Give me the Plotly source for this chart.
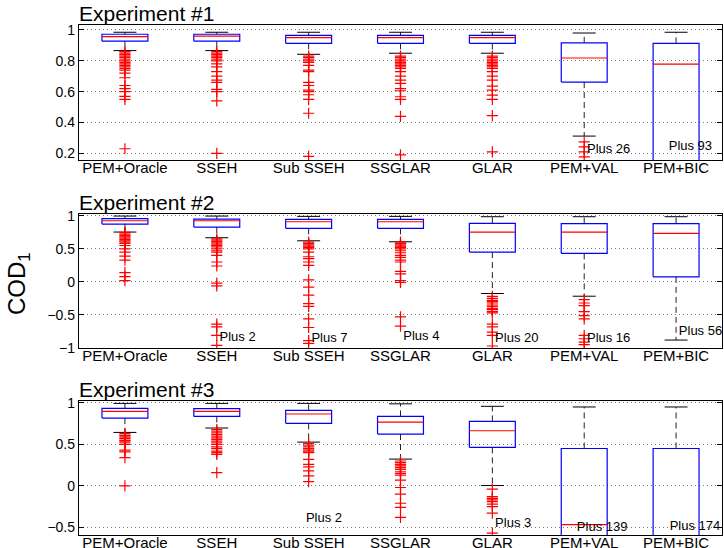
import plotly.graph_objects as go

categories = ["PEM+Oracle", "SSEH", "Sub SSEH", "SSGLAR", "GLAR", "PEM+VAL", "PEM+BIC"]
titles = ["Experiment #1", "Experiment #2", "Experiment #3"]

# ---- Experiment #1 ----
exp1_upper = [0.985, 0.985, 0.985, 0.985, 0.985, 0.980, 0.985]
exp1_q3 = [0.972, 0.972, 0.965, 0.965, 0.965, 0.916, 0.913]
exp1_med = [0.957, 0.960, 0.950, 0.950, 0.950, 0.818, 0.779]
exp1_q1 = [0.927, 0.927, 0.913, 0.913, 0.913, 0.662, 0.0]
exp1_lower = [0.866, 0.866, 0.842, 0.849, 0.849, 0.312, -0.5]
exp1_out = [
    [0.86, 0.85, 0.84, 0.83, 0.82, 0.81, 0.80, 0.79, 0.78, 0.77, 0.76, 0.75, 0.74, 0.72, 0.69, 0.64, 0.62, 0.60, 0.57, 0.55, 0.23],
    [0.86, 0.85, 0.84, 0.83, 0.82, 0.81, 0.80, 0.78, 0.76, 0.73, 0.70, 0.675, 0.66, 0.615, 0.60, 0.54, 0.20],
    [0.83, 0.82, 0.81, 0.80, 0.79, 0.77, 0.74, 0.73, 0.66, 0.64, 0.61, 0.60, 0.58, 0.55, 0.46, 0.18],
    [0.83, 0.82, 0.81, 0.80, 0.79, 0.78, 0.77, 0.76, 0.75, 0.73, 0.70, 0.675, 0.654, 0.62, 0.606, 0.567, 0.55, 0.44, 0.19],
    [0.83, 0.82, 0.81, 0.80, 0.79, 0.78, 0.77, 0.76, 0.75, 0.73, 0.70, 0.675, 0.636, 0.61, 0.578, 0.55, 0.445, 0.21],
    [0.275, 0.242, 0.21, 0.177],
    [],
]
exp1_plus_x = [6.03, 6.92]
exp1_plus_y = [0.225, 0.242]
exp1_plus_text = ["Plus 26", "Plus 93"]

# ---- Experiment #2 ----
exp2_upper = [0.995, 0.995, 0.99, 0.99, 0.985, 0.985, 0.985]
exp2_q3 = [0.955, 0.950, 0.945, 0.945, 0.885, 0.879, 0.879]
exp2_med = [0.924, 0.924, 0.909, 0.909, 0.753, 0.753, 0.733]
exp2_q1 = [0.874, 0.829, 0.809, 0.809, 0.450, 0.430, 0.076]
exp2_lower = [0.753, 0.667, 0.621, 0.606, -0.176, -0.217, -0.88]
exp2_out = [
    [0.75, 0.74, 0.72, 0.70, 0.68, 0.66, 0.64, 0.62, 0.60, 0.58, 0.55, 0.50, 0.45, 0.39, 0.33, 0.14, 0.08, 0.02],
    [0.65, 0.63, 0.61, 0.59, 0.57, 0.55, 0.53, 0.50, 0.47, 0.45, 0.40, 0.30, 0.24, -0.02, -0.06, -0.64, -0.68, -0.81, -0.96],
    [0.60, 0.58, 0.56, 0.54, 0.52, 0.50, 0.45, 0.38, 0.35, 0.30, 0.25, 0.03, -0.08, -0.20, -0.33, -0.37, -0.56, -0.69, -0.89, -0.93],
    [0.60, 0.58, 0.56, 0.54, 0.52, 0.50, 0.47, 0.44, 0.40, 0.37, 0.33, 0.30, 0.16, 0.12, 0.02, -0.01, -0.53, -0.67],
    [-0.22, -0.25, -0.28, -0.30, -0.32, -0.35, -0.37, -0.40, -0.42, -0.45, -0.47, -0.64, -0.68, -0.76, -0.81, -0.97],
    [-0.27, -0.32, -0.36, -0.45, -0.51, -0.56, -0.81, -0.86, -0.91, -0.95],
    [],
]
exp2_plus_x = [2.03, 3.03, 4.03, 5.03, 6.03, 7.03]
exp2_plus_y = [-0.85, -0.86, -0.83, -0.86, -0.86, -0.76]
exp2_plus_text = ["Plus 2", "Plus 7", "Plus 4", "Plus 20", "Plus 16", "Plus 56"]

# ---- Experiment #3 ----
exp3_upper = [0.995, 0.995, 0.995, 0.99, 0.96, 0.952, 0.952]
exp3_q3 = [0.935, 0.931, 0.911, 0.838, 0.778, 0.451, 0.451]
exp3_med = [0.899, 0.899, 0.867, 0.770, 0.665, -0.468, -0.8]
exp3_q1 = [0.818, 0.838, 0.754, 0.625, 0.464, -1.0, -1.0]
exp3_lower = [0.645, 0.698, 0.528, 0.323, 0.004, -2.0, -2.0]
exp3_out = [
    [0.63, 0.61, 0.60, 0.58, 0.57, 0.55, 0.54, 0.52, 0.50, 0.43, 0.41, 0.34, 0.0],
    [0.68, 0.66, 0.64, 0.62, 0.60, 0.58, 0.56, 0.54, 0.52, 0.50, 0.47, 0.45, 0.42, 0.40, 0.38, 0.16],
    [0.51, 0.49, 0.47, 0.45, 0.43, 0.41, 0.40, 0.32, 0.26, 0.23, 0.18, 0.12, 0.05],
    [0.30, 0.28, 0.26, 0.24, 0.22, 0.20, 0.17, 0.15, 0.13, 0.07, -0.02, -0.10, -0.21, -0.26, -0.38],
    [-0.04, -0.13, -0.15, -0.17, -0.19, -0.22, -0.25, -0.33, -0.57],
    [],
    [],
]
exp3_plus_x = [2.97, 5.03, 5.92, 6.93]
exp3_plus_y = [-0.40, -0.46, -0.51, -0.49]
exp3_plus_text = ["Plus 2", "Plus 3", "Plus 139", "Plus 174"]

y_ranges = [[0.157, 1.032], [-1.0, 1.026], [-0.593, 1.024]]
y_ticks = [[0.2, 0.4, 0.6, 0.8, 1], [-1, -0.5, 0, 0.5, 1], [-0.5, 0, 0.5, 1]]
y_ticktext = [["0.2", "0.4", "0.6", "0.8", "1"], ["\u22121", "\u22120.5", "0", "0.5", "1"], ["\u22120.5", "0", "0.5", "1"]]

W, H = 724, 548
domains_px = [(25, 160), (214, 348), (401, 535)]

experiments = [
    (exp1_upper, exp1_q3, exp1_med, exp1_q1, exp1_lower, exp1_out, exp1_plus_x, exp1_plus_y, exp1_plus_text),
    (exp2_upper, exp2_q3, exp2_med, exp2_q1, exp2_lower, exp2_out, exp2_plus_x, exp2_plus_y, exp2_plus_text),
    (exp3_upper, exp3_q3, exp3_med, exp3_q1, exp3_lower, exp3_out, exp3_plus_x, exp3_plus_y, exp3_plus_text),
]

fig = go.Figure()
half_box = 0.25
half_cap = 0.125
FONT = "Liberation Sans, Arial, sans-serif"

for k, (up, q3, med, q1, lo, outs, px, py, ptxt) in enumerate(experiments):
    xa = "x" if k == 0 else f"x{k+1}"
    ya = "y" if k == 0 else f"y{k+1}"
    bx, by, mx, my, wx, wy, cx, cy, ox, oy = [], [], [], [], [], [], [], [], [], []
    for i in range(len(categories)):
        c = i + 1
        bx += [c - half_box, c + half_box, c + half_box, c - half_box, c - half_box, None]
        by += [q1[i], q1[i], q3[i], q3[i], q1[i], None]
        mx += [c - half_box, c + half_box, None]
        my += [med[i], med[i], None]
        wx += [c, c, None, c, c, None]
        wy += [q3[i], up[i], None, q1[i], lo[i], None]
        cx += [c - half_cap, c + half_cap, None, c - half_cap, c + half_cap, None]
        cy += [up[i], up[i], None, lo[i], lo[i], None]
        ox += [c] * len(outs[i])
        oy += outs[i]
    fig.add_trace(go.Scatter(x=wx, y=wy, mode="lines", line=dict(color="#222", width=1, dash="6px,4px"),
                             xaxis=xa, yaxis=ya, hoverinfo="skip"))
    fig.add_trace(go.Scatter(x=cx, y=cy, mode="lines", line=dict(color="black", width=1),
                             xaxis=xa, yaxis=ya, hoverinfo="skip"))
    fig.add_trace(go.Scatter(x=bx, y=by, mode="lines", line=dict(color="#0000ff", width=1.2),
                             xaxis=xa, yaxis=ya, hoverinfo="skip"))
    fig.add_trace(go.Scatter(x=mx, y=my, mode="lines", line=dict(color="#ff0000", width=1.2),
                             xaxis=xa, yaxis=ya, hoverinfo="skip"))
    fig.add_trace(go.Scatter(x=ox, y=oy, mode="markers",
                             marker=dict(symbol="cross-thin", size=8, color="red",
                                         line=dict(color="red", width=1.2)),
                             xaxis=xa, yaxis=ya, cliponaxis=True, hoverinfo="skip"))
    fig.add_trace(go.Scatter(x=px, y=py, mode="text", text=ptxt, textposition="middle right",
                             textfont=dict(family=FONT, size=13, color="black"),
                             xaxis=xa, yaxis=ya, cliponaxis=False, hoverinfo="skip"))

layout = dict(
    width=W, height=H,
    margin=dict(l=0, r=0, t=0, b=0),
    paper_bgcolor="white", plot_bgcolor="white",
    showlegend=False,
    font=dict(family=FONT, size=14, color="black"),
    annotations=[],
)
x0, x1 = 79 / W, 722 / W
for k in range(3):
    top, bot = domains_px[k]
    sfx = "" if k == 0 else str(k + 1)
    layout["xaxis" + sfx] = dict(
        domain=[x0, x1], range=[0.5, 7.5], anchor="y" + sfx,
        tickmode="array", tickvals=list(range(1, 8)), ticktext=categories,
        ticks="", showgrid=False, zeroline=False,
        showline=True, linecolor="black", linewidth=1.3, mirror=True,
        tickfont=dict(family=FONT, size=15, color="black"), automargin=False,
        ticklabelstandoff=-6,
    )
    layout["yaxis" + sfx] = dict(
        domain=[1 - bot / H, 1 - top / H], range=y_ranges[k], anchor="x" + sfx,
        tickmode="array", tickvals=y_ticks[k], ticktext=y_ticktext[k],
        ticks="inside", ticklen=5, tickcolor="black", tickwidth=1,
        showline=True, linecolor="black", linewidth=1.3, mirror="ticks",
        showgrid=True, gridcolor="#777", griddash="1px,3px", gridwidth=1,
        zeroline=False, tickfont=dict(family=FONT, size=14, color="black"), automargin=False,
    )
    layout["annotations"].append(dict(
        text=titles[k], xref="paper", yref="paper", x=x0 - 2 / W, y=1 - (top + 2) / H,
        xanchor="left", yanchor="bottom", showarrow=False,
        font=dict(family=FONT, size=21, color="black"),
    ))

layout["annotations"].append(dict(
    text="COD<sub>1</sub>", xref="paper", yref="paper", x=18 / W, y=1 - 284 / H,
    xanchor="center", yanchor="middle", textangle=-90, showarrow=False,
    font=dict(family=FONT, size=24, color="black"),
))

fig.update_layout(**layout)
fig.write_html("out.html", config={"displayModeBar": False},
               post_script="document.body.style.margin='0';document.body.style.overflow='hidden';")
